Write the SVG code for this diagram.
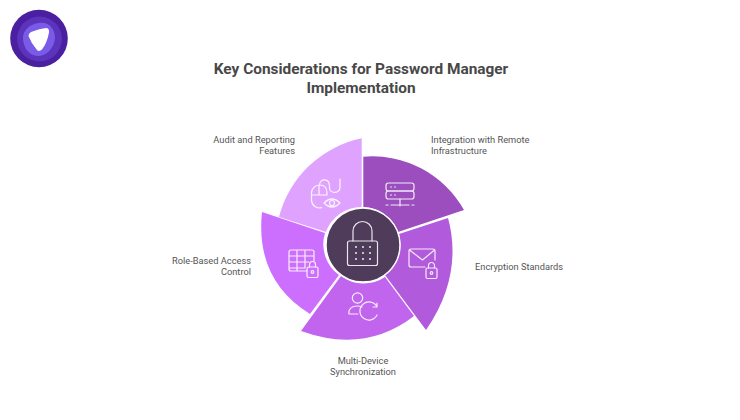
<svg xmlns="http://www.w3.org/2000/svg" width="740" height="420" viewBox="0 0 740 420">
<style>
text{font-family:"Roboto","Liberation Sans",sans-serif;fill:#555}
.t{font-size:15.4px;font-weight:700;text-anchor:middle;fill:#484848}
.l{font-size:9.27px}
.e{text-anchor:end}
.m{text-anchor:middle}
.i{fill:none;stroke:#fff;stroke-width:1.2;stroke-linecap:round;stroke-linejoin:round;opacity:.88}
.d{fill:#fff;opacity:.9}
</style>
<rect width="740" height="420" fill="#fff"/>
<g id="logo">
<circle cx="39" cy="38.500" r="28.800" fill="#4a1fa0"/>
<circle cx="39.500" cy="39" r="22.500" fill="#5b33bd"/>
<path d="M39 23C49 21 55 29 55 38C54 49 46 56 38 56C29 56 23 47 23 38C23 30 30 24 39 23Z" fill="#7a5be8"/>
<path d="M31 32Q40 28.500 46.500 28Q49.500 28.500 49 32.500Q47 43 42 49.500Q39 52 37 50Q31 43 28.500 36Q28.500 33.500 31 32Z" fill="#fff"/>
</g>
<g id="title"><text class="t" x="361" y="74">Key Considerations for Password Manager</text><text class="t" x="361" y="93">Implementation</text></g>
<g id="connectors"></g>
<g id="audit">
<path d="M361.700 138.300L361.700 207A38 38 0 0 0 326 232L279 217A108 108 0 0 1 361.700 138.300Z" fill="#dfa3ff"/>
<path class="i" d="M311.500 195v-2a8 8 0 0 1 8-8q7.500 0 7.500 8v2M311.500 195v5a8 8 0 0 0 10 7.700M311.500 195h15.500M319 185v10M319.500 185c0-7 10-7 10 1v2c0 6 10.500 6 10.500-1v-8"/>
<path class="i" d="M324 203q8-8 16 0q-8 8-16 0Z"/><circle class="i" cx="332" cy="203" r="2.500"/>
<text class="l e" x="295" y="143">Audit and Reporting</text><text class="l e" x="295" y="154">Features</text>
</g>
<g id="integration">
<path d="M363.300 156.700A105 105 0 0 1 464 210L398 232A38 38 0 0 0 363.300 207Z" fill="#9c4ebf"/>
<g class="i"><rect x="386" y="183" width="28" height="8" rx="2.500"/><rect x="386" y="191" width="28" height="8" rx="2.500"/><path d="M400 199v7M391 205h18M386 205h2M412 205h2"/></g>
<g class="d"><circle cx="391" cy="187" r=".8"/><circle cx="395" cy="187" r=".8"/><circle cx="391" cy="195" r=".8"/><circle cx="395" cy="195" r=".8"/></g>
<text class="l" x="431" y="143">Integration with Remote</text><text class="l" x="431" y="154">Infrastructure</text>
</g>
<g id="encryption">
<path d="M448 218C457 250 454 290 426 330L385 275A38 38 0 0 0 399 234Z" fill="#b15adb"/>
<g class="i"><path d="M425 267h-14a2 2 0 0 1-2-2V251a2 2 0 0 1 2-2h22a2 2 0 0 1 2 2v9M409.500 250l13 10 12-10"/><rect x="426" y="268" width="11" height="10.500" rx="1.500"/><path d="M428.500 268v-2.500a3 3 0 0 1 6 0v2.500"/><circle cx="431.500" cy="273" r="1.300"/></g>
<text class="l" x="475" y="270">Encryption Standards</text>
</g>
<g id="multi">
<path d="M301 331L341 276A38 38 0 0 0 385 277L414 316Q365 354 301 331Z" fill="#c164ee"/>
<g class="i"><circle cx="357.500" cy="298" r="5.200"/><path d="M349 314c-1-5 3-8 8-8q3 0 5 1M349 314h9"/><path d="M377 307a9 9 0 1 0 0 8M377 307v-4M377 307h-4"/></g>
<text class="l m" x="363" y="364">Multi-Device</text><text class="l m" x="363" y="375">Synchronization</text>
</g>
<g id="rbac">
<path d="M262 212L325 233A38 38 0 0 0 339 275L310 314Q255 280 262 212Z" fill="#cd6ffe"/>
<g class="i"><path d="M307 271h-16a2 2 0 0 1-2-2V252a2 2 0 0 1 2-2h21a2 2 0 0 1 2 2v9M289 256h25M289 262h20M289 268h16M297 250v21M305 250v18"/><rect x="307" y="267" width="11" height="10.500" rx="1.500"/><path d="M309.500 267v-2.500a3 3 0 0 1 6 0v2.500"/><circle cx="312.500" cy="272" r="1.300"/></g>
<text class="l e" x="251" y="264">Role-Based Access</text><text class="l e" x="251" y="275">Control</text>
</g>
<g id="center">
<circle cx="363" cy="245" r="37" fill="#4f3b5a" stroke="#fff" stroke-width="1.500"/>
<g class="i"><rect x="347.500" y="241" width="30" height="24.500" rx="2"/><path d="M353 241v-10a9.500 9.500 0 0 1 19 0v10"/></g>
<g class="d"><circle cx="356" cy="247" r="1"/><circle cx="363" cy="247" r="1"/><circle cx="370" cy="247" r="1"/><circle cx="356" cy="253" r="1"/><circle cx="363" cy="253" r="1"/><circle cx="370" cy="253" r="1"/><circle cx="356" cy="259" r="1"/><circle cx="363" cy="259" r="1"/><circle cx="370" cy="259" r="1"/></g>
</g>
</svg>
